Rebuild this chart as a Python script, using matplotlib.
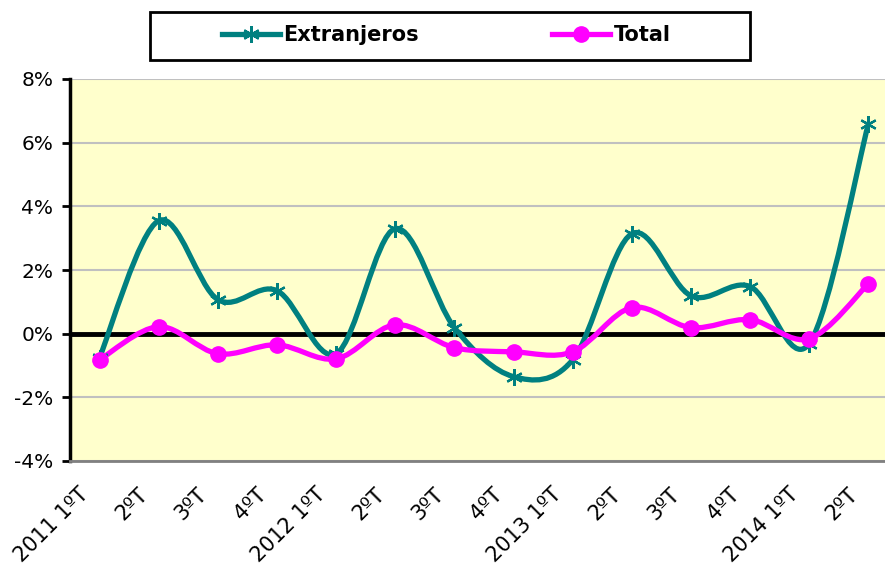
import matplotlib
matplotlib.use("Agg")
import matplotlib.pyplot as plt
from matplotlib.path import Path
from matplotlib.patches import PathPatch, Rectangle
from matplotlib.lines import Line2D
from matplotlib.ticker import FuncFormatter
from matplotlib.transforms import ScaledTranslation

# -------------------- DATA --------------------
quarters = ["2011 1ºT", "2ºT", "3ºT", "4ºT",
            "2012 1ºT", "2ºT", "3ºT", "4ºT",
            "2013 1ºT", "2ºT", "3ºT", "4ºT",
            "2014 1ºT", "2ºT"]
extranjeros = [-0.75, 3.55, 1.07, 1.35, -0.63, 3.30, 0.19, -1.35,
               -0.82, 3.14, 1.19, 1.48, -0.31, 6.60]
total = [-0.82, 0.22, -0.63, -0.35, -0.79, 0.28, -0.44, -0.57,
         -0.57, 0.82, 0.19, 0.44, -0.16, 1.57]

TEAL = "#008080"
MAGENTA = "#FF00FF"
BG = "#FFFFCC"
STAR = (6, 2, 0)


def smooth_path(xs, ys):
    """Excel-like smoothed line: cubic Bezier segments through every point."""
    pts = list(zip(xs, ys))
    n = len(pts)
    verts = [pts[0]]
    codes = [Path.MOVETO]
    for i in range(n - 1):
        p0 = pts[max(i - 1, 0)]
        p1 = pts[i]
        p2 = pts[i + 1]
        p3 = pts[min(i + 2, n - 1)]
        c1 = (p1[0] + (p2[0] - p0[0]) / 6, p1[1] + (p2[1] - p0[1]) / 6)
        c2 = (p2[0] - (p3[0] - p1[0]) / 6, p2[1] - (p3[1] - p1[1]) / 6)
        verts += [c1, c2, p2]
        codes += [Path.CURVE4] * 3
    return Path(verts, codes)


# -------------------- FIGURE --------------------
fig = plt.figure(figsize=(8.85, 5.68), dpi=100)
ax = fig.add_axes([70 / 885, 1 - 461 / 568, 828 / 885, 382 / 568])
ax.set_facecolor(BG)

x = list(range(len(quarters)))
ax.set_xlim(-0.5, len(quarters) - 0.5)
ax.set_ylim(-4, 8)
ax.set_yticks(range(-4, 9, 2))
ax.yaxis.set_major_formatter(FuncFormatter(lambda v, p: f"{v:.0f}%"))

ax.grid(axis="y", color="#C0C0C0", lw=1.5)
ax.axhline(0, color="black", lw=3.5, zorder=2)

for data, col in [(extranjeros, TEAL), (total, MAGENTA)]:
    ax.add_patch(PathPatch(smooth_path(x, data), facecolor="none",
                           edgecolor=col, lw=3.8, capstyle="round",
                           joinstyle="round", zorder=3))

ax.plot(x, extranjeros, ls="none", marker=STAR, ms=12, mew=1.6,
        color=TEAL, zorder=4)
ax.plot(x, total, ls="none", marker="o", ms=11, color=MAGENTA, zorder=5)

ax.set_xticks(x)
ax.set_xticklabels(quarters, rotation=45, ha="right", va="center",
                   rotation_mode="anchor", fontsize=15)
ax.tick_params(axis="x", length=0, pad=0)
shift = ScaledTranslation(-14 / 100, -30 / 100, fig.dpi_scale_trans)
for lab in ax.get_xticklabels():
    lab.set_transform(lab.get_transform() + shift)
ax.tick_params(axis="y", labelsize=14.5, length=6, width=2,
               direction="out", pad=6)

for s in ["top", "right"]:
    ax.spines[s].set_visible(False)
ax.spines["left"].set_linewidth(2.5)
ax.spines["bottom"].set_color("#808080")
ax.spines["bottom"].set_linewidth(2)

# legend box
fig.patches.append(Rectangle((150 / 885, 1 - 60 / 568), 600 / 885, 48 / 568,
                             transform=fig.transFigure, facecolor="white",
                             edgecolor="black", lw=2))
handles = [
    Line2D([], [], color=TEAL, lw=3.8, marker=STAR, ms=12, mew=1.6),
    Line2D([], [], color=MAGENTA, lw=3.8, marker="o", ms=11),
]
leg = fig.legend(handles, ["Extranjeros", "Total"], ncol=2,
                 loc="center", bbox_to_anchor=(446 / 885, 1 - 35 / 568),
                 frameon=False, handlelength=2.8, handletextpad=0.15,
                 columnspacing=6.4, numpoints=1,
                 prop={"weight": "bold", "size": 15})

fig.savefig("out.png", dpi=100)
